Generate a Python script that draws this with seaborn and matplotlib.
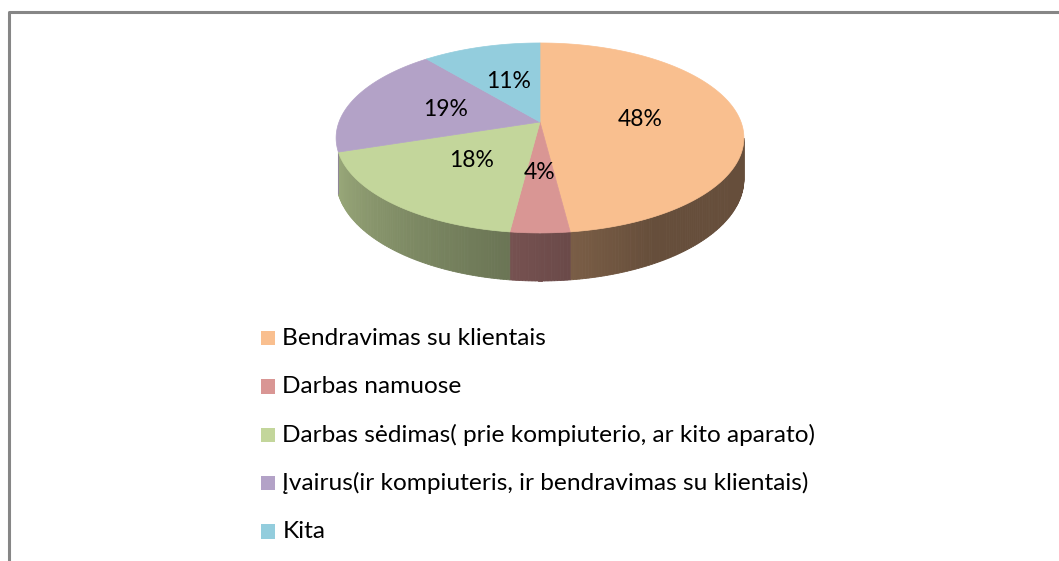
import numpy as np
import matplotlib
matplotlib.use("Agg")
import matplotlib.pyplot as plt
from matplotlib.patches import Polygon, Rectangle
import seaborn as sns

# ---- data ----
categories = [
    "Bendravimas su klientais",
    "Darbas namuose",
    "Darbas sėdimas( prie kompiuterio, ar kito aparato)",
    "Įvairus(ir kompiuteris, ir bendravimas su klientais)",
    "Kita",
]
values = [48, 4, 18, 19, 11]
pct_labels = ["48%", "4%", "18%", "19%", "11%"]
colors_hex = ["#F9BF8F", "#D99694", "#C3D69B", "#B3A2C7", "#93CDDD"]

sns.set_theme(style="white")
plt.rcParams["font.family"] = ["Lato", "DejaVu Sans"]
palette = sns.color_palette(colors_hex)

W, H = 1059, 561
fig = plt.figure(figsize=(W / 100, H / 100), dpi=100)
ax = fig.add_axes([0, 0, 1, 1])
ax.set_xlim(0, W)
ax.set_ylim(H, 0)
ax.axis("off")

# frame
ax.plot([9, 9, W + 5], [H + 5, 12, 12], color="#868686", lw=2.2, solid_capstyle="butt")

# ---- 3D pie geometry (perspective) ----
cx, cy = 540, 122
R, B, k = 201, 92.3, 0.168
D = 40.0
wall_lo, wall_hi = -162.0, -9.7  # visible front part of the side wall


def proj(r, t_deg, drop=0.0):
    t = np.radians(t_deg)
    u, v = r * np.cos(t), r * np.sin(t)
    s = 1 + k * v
    return cx + R * u / s, cy - B * v / s + drop / s


def shade(t):
    tt = t % 360
    f = 0.86 - (tt - 180) * 0.0038
    return max(0.41, min(0.88, f))


fracs = np.array(values, dtype=float) / sum(values)
starts = 90 - 360 * np.concatenate([[0], np.cumsum(fracs)[:-1]])
ends = starts - 360 * fracs

# side walls
for i in range(len(values)):
    a0, a1 = max(ends[i], wall_lo), min(starts[i], wall_hi)
    if a1 <= a0:
        continue
    n = max(2, int((a1 - a0) / 0.75) + 1)
    ts = np.linspace(a0, a1, n)
    base = np.array(palette[i])
    for j in range(n - 1):
        t0, t1 = ts[j], ts[j + 1]
        tm = 0.5 * (t0 + t1)
        c = np.clip(base * shade(tm), 0, 1)
        p = [proj(1, t0), proj(1, t1), proj(1, t1, D), proj(1, t0, D)]
        ax.add_patch(Polygon(p, closed=True, facecolor=c, edgecolor=c, lw=0.6))

# top faces
for i in range(len(values)):
    ts = np.linspace(starts[i], ends[i], 200)
    pts = [proj(0, 0)] + [proj(1, t) for t in ts]
    ax.add_patch(Polygon(pts, closed=True, facecolor=palette[i], edgecolor=palette[i], lw=0.5))

# percentage labels
for i in range(len(values)):
    tm = 0.5 * (starts[i] + ends[i])
    x, y = proj(0.5, tm)
    ax.text(x, y, pct_labels[i], ha="center", va="center", fontsize=16.5, color="black")

# legend
leg_x, leg_y0, leg_dy, sq = 260.5, 338, 48.4, 14.5
for i, cat in enumerate(categories):
    y = leg_y0 + i * leg_dy
    ax.add_patch(Rectangle((leg_x, y - sq / 2), sq, sq, facecolor=palette[i], edgecolor="none"))
    ax.text(leg_x + 22, y, cat, ha="left", va="center", fontsize=17.6, color="black")

fig.savefig("out.png", dpi=100, facecolor="white")
